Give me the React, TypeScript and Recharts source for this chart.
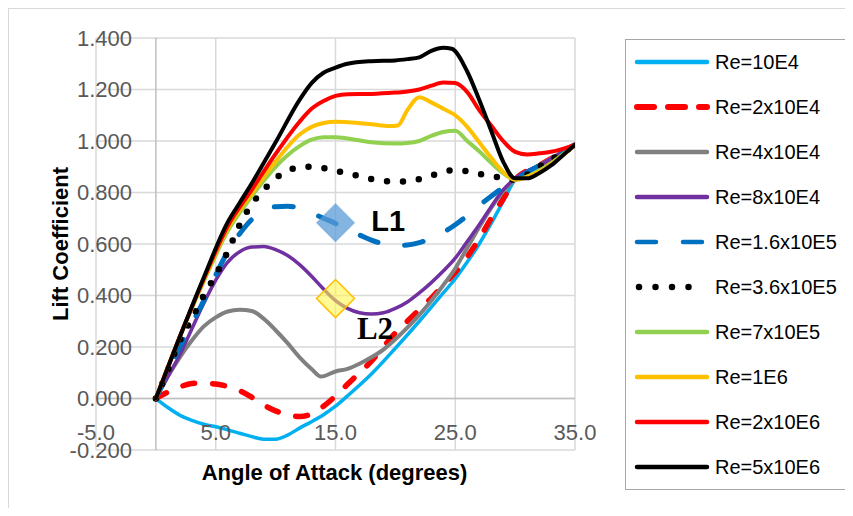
import React from 'react';
import {
  LineChart,
  Line,
  XAxis,
  YAxis,
  CartesianGrid,
  ReferenceDot,
  Label,
} from 'recharts';

type Pt = [number, number];

// Lift coefficient vs angle of attack, one array per Reynolds number
const re10e4: Pt[] = [
  [0, 0], [1, -0.035], [2, -0.065], [3, -0.085], [4, -0.1], [5, -0.11], [6, -0.122],
  [7, -0.135], [8, -0.148], [9, -0.158], [10, -0.158], [11, -0.142], [12, -0.115],
  [13, -0.09], [14, -0.063], [15, -0.03], [16, 0.01], [18, 0.095], [20, 0.195],
  [22, 0.3], [24, 0.41], [25, 0.465], [26, 0.53], [27, 0.6], [28, 0.68], [29, 0.765],
  [30, 0.85], [32, 0.905], [35, 0.985],
];

const re2x10e4: Pt[] = [
  [0, 0], [1, 0.025], [2, 0.045], [3, 0.058], [4, 0.06], [5, 0.056], [6, 0.047],
  [7, 0.03], [8, 0.005], [9, -0.025], [10, -0.048], [11, -0.063], [12, -0.07],
  [13, -0.06], [14, -0.03], [15, 0.01], [16, 0.055], [17, 0.1], [18, 0.145], [19, 0.2],
  [20, 0.255], [21, 0.3], [22, 0.345], [23, 0.39], [24, 0.44], [25, 0.49], [26, 0.55],
  [27, 0.62], [28, 0.7], [29, 0.775], [30, 0.85], [32, 0.905], [35, 0.985],
];

const re4x10e4: Pt[] = [
  [0, 0], [1, 0.085], [2, 0.16], [3, 0.225], [4, 0.28], [5, 0.315], [6, 0.338],
  [7, 0.345], [8, 0.34], [9, 0.31], [10, 0.265], [11, 0.215], [12, 0.16], [13, 0.115],
  [13.8, 0.085], [15, 0.105], [16, 0.115], [17, 0.135], [18, 0.16], [19, 0.19],
  [20, 0.23], [21, 0.275], [22, 0.325], [23, 0.38], [24, 0.44], [25, 0.505], [26, 0.585],
  [27, 0.665], [28, 0.74], [29, 0.805], [30, 0.85], [32, 0.905], [35, 0.985],
];

const re8x10e4: Pt[] = [
  [0, 0], [1, 0.085], [2, 0.17], [3, 0.27], [4, 0.37], [5, 0.46], [6, 0.53], [7, 0.57],
  [8, 0.588], [9, 0.59], [10, 0.578], [11, 0.555], [12, 0.52], [13, 0.475], [14, 0.425],
  [15, 0.38], [16, 0.35], [17, 0.333], [18, 0.328], [19, 0.333], [20, 0.35], [21, 0.375],
  [22, 0.41], [23, 0.45], [24, 0.495], [25, 0.545], [26, 0.61], [27, 0.675], [28, 0.745],
  [29, 0.81], [30, 0.855], [32, 0.905], [35, 0.985],
];

const re16x10e4: Pt[] = [
  [0, 0], [1, 0.1], [2, 0.2], [3, 0.29], [4, 0.38], [5, 0.48], [6, 0.57], [7, 0.64],
  [8, 0.695], [9, 0.73], [10, 0.745], [11, 0.747], [12, 0.738], [13, 0.72], [14, 0.7],
  [15, 0.68], [16, 0.655], [17, 0.635], [18, 0.615], [19, 0.6], [20, 0.594], [21, 0.596],
  [22, 0.605], [23, 0.623], [24, 0.645], [25, 0.675], [26, 0.71], [27, 0.75], [28, 0.785],
  [29, 0.82], [30, 0.85], [32, 0.905], [35, 0.985],
];

const re36x10e4: Pt[] = [
  [0, 0], [1, 0.11], [2, 0.225], [3, 0.31], [4, 0.4], [5, 0.48], [6, 0.57], [7, 0.675],
  [8, 0.755], [9, 0.81], [10, 0.855], [11, 0.885], [12, 0.898], [13, 0.9], [14, 0.895],
  [15, 0.885], [16, 0.874], [17, 0.864], [18, 0.852], [19, 0.845], [20, 0.842],
  [21, 0.843], [22, 0.852], [23, 0.866], [24, 0.88], [25, 0.888], [26, 0.882],
  [27, 0.872], [28, 0.864], [29, 0.857], [30, 0.85], [32, 0.9], [35, 0.985],
];

const re7x10e5: Pt[] = [
  [0, 0], [2, 0.24], [4, 0.455], [6, 0.65], [8, 0.785], [10, 0.9], [12, 0.98],
  [13, 1.005], [14, 1.015], [15, 1.015], [16, 1.01], [18, 0.995], [20, 0.99],
  [21, 0.992], [22, 1.0], [23, 1.02], [24, 1.035], [25, 1.04], [26, 1.0], [27, 0.96],
  [28, 0.915], [29, 0.875], [30, 0.85], [32, 0.885], [35, 0.985],
];

const re1e6: Pt[] = [
  [0, 0], [2, 0.24], [4, 0.46], [6, 0.66], [8, 0.795], [10, 0.92], [12, 1.025],
  [13, 1.055], [14, 1.07], [15, 1.075], [16, 1.073], [18, 1.065], [19.5, 1.058],
  [20.2, 1.06], [21, 1.12], [22, 1.17], [23, 1.15], [24, 1.125], [25, 1.1], [26, 1.055],
  [27, 0.995], [28, 0.935], [29, 0.88], [30, 0.85], [32, 0.88], [35, 0.985],
];

const re2x10e6: Pt[] = [
  [0, 0], [2, 0.24], [4, 0.465], [6, 0.67], [8, 0.81], [10, 0.95], [12, 1.075],
  [13, 1.125], [14, 1.155], [15, 1.175], [16, 1.182], [18, 1.183], [20, 1.188],
  [21, 1.192], [22, 1.2], [23, 1.215], [24, 1.227], [25, 1.225], [26, 1.19], [27, 1.12],
  [28, 1.06], [29, 1.0], [30, 0.958], [31, 0.948], [32, 0.952], [33, 0.958], [35, 0.985],
];

const re5x10e6: Pt[] = [
  [0, 0], [2, 0.24], [4, 0.47], [6, 0.685], [7, 0.76], [8, 0.835], [10, 0.995],
  [12, 1.16], [13, 1.225], [14, 1.265], [15, 1.285], [16, 1.3], [18, 1.31], [20, 1.313],
  [21, 1.318], [22, 1.325], [23, 1.35], [24, 1.362], [24.7, 1.358], [26, 1.27],
  [27, 1.16], [28, 1.04], [29, 0.92], [30, 0.855], [31, 0.855], [32, 0.875],
  [33, 0.905], [34, 0.945], [35, 0.985],
];

const seriesNames = [
  'Re=10E4', 'Re=2x10E4', 'Re=4x10E4', 'Re=8x10E4', 'Re=1.6x10E5',
  'Re=3.6x10E5', 'Re=7x10E5', 'Re=1E6', 'Re=2x10E6', 'Re=5x10E6',
];

const angleTicks = [-5, 5, 15, 25, 35];
const liftTicks = [-0.2, 0, 0.2, 0.4, 0.6, 0.8, 1.0, 1.2, 1.4];

// Marked regions and their tags
const regionMarkers = [
  { name: 'L1', angle: 15, lift: 0.683, tagAngle: 19.4, tagLift: 0.69 },
  { name: 'L2', angle: 15, lift: 0.388, tagAngle: 18.3, tagLift: 0.272 },
];

interface SeriesStyle {
  points: Pt[];
  color: string;
  width: number;
  dash?: string;
  legendDash?: string;
  legendWidth?: number;
}

const styles: SeriesStyle[] = [
  { points: re10e4, color: '#00b0f0', width: 3.5 },
  { points: re2x10e4, color: '#ff0000', width: 5.5, dash: '12 18', legendDash: '17 14', legendWidth: 6 },
  { points: re4x10e4, color: '#808080', width: 4 },
  { points: re8x10e4, color: '#7030a0', width: 3.5 },
  { points: re16x10e4, color: '#0070c0', width: 5, dash: '19 27', legendDash: '19 27' },
  { points: re36x10e4, color: '#000000', width: 6.5, dash: '0 16', legendDash: '0 16.5' },
  { points: re7x10e5, color: '#92d050', width: 4 },
  { points: re1e6, color: '#ffc000', width: 4 },
  { points: re2x10e6, color: '#ff0000', width: 4 },
  { points: re5x10e6, color: '#000000', width: 4 },
];

const series = styles.map((s, i) => ({
  ...s,
  name: seriesNames[i],
  data: s.points.map(([x, y]) => ({ x, y })),
}));

const SANS = '"Liberation Sans", Arial, sans-serif';
const SERIF = '"Liberation Serif", "Times New Roman", serif';

const XTick = (props: any) => {
  const { x, y, payload } = props;
  return (
    <text
      x={x}
      y={y - 18}
      textAnchor="middle"
      dominantBaseline="central"
      fill="#595959"
      fontFamily={SANS}
      fontSize={22}
    >
      {Number(payload.value).toFixed(1)}
    </text>
  );
};

const YTick = (props: any) => {
  const { x, y, payload } = props;
  return (
    <text
      x={x + 36}
      y={y}
      textAnchor="end"
      dominantBaseline="central"
      fill="#595959"
      fontFamily={SANS}
      fontSize={22}
    >
      {Number(payload.value).toFixed(3)}
    </text>
  );
};

const YTitle = (props: any) => {
  const vb = props.viewBox || { x: 0, y: 0, width: 0, height: 0 };
  const cx = vb.x + 51;
  const cy = vb.y + vb.height / 2;
  return (
    <text
      x={cx}
      y={cy}
      transform={`rotate(-90, ${cx}, ${cy})`}
      textAnchor="middle"
      dominantBaseline="central"
      fontFamily={SANS}
      fontWeight="bold"
      fontSize={22}
      fill="#000"
    >
      Lift Coefficient
    </text>
  );
};

const XTitle = (props: any) => {
  const vb = props.viewBox || { x: 0, y: 0, width: 0, height: 0 };
  return (
    <text
      x={vb.x + vb.width / 2 - 1}
      y={vb.y + 22}
      textAnchor="middle"
      dominantBaseline="central"
      fontFamily={SANS}
      fontWeight="bold"
      fontSize={22}
      fill="#000"
    >
      Angle of Attack (degrees)
    </text>
  );
};

const diamond = (fill: string, stroke: string) => (props: any) => {
  const { cx, cy } = props;
  const r = 19;
  return (
    <path
      d={`M${cx},${cy - r} L${cx + r},${cy} L${cx},${cy + r} L${cx - r},${cy} Z`}
      fill={fill}
      stroke={stroke}
      strokeWidth={1.5}
    />
  );
};

const tag = (text: string, family: string, size: number) => (props: any) => {
  const { cx, cy } = props;
  return (
    <text
      x={cx}
      y={cy}
      textAnchor="middle"
      dominantBaseline="central"
      fontFamily={family}
      fontWeight="bold"
      fontSize={size}
      fill="#000"
    >
      {text}
    </text>
  );
};

const markerLooks = [
  { shape: diamond('rgba(91,155,213,0.75)', 'rgba(91,155,213,0.3)'), font: SANS, size: 29 },
  { shape: diamond('rgba(255,245,80,0.6)', '#ffc000'), font: SERIF, size: 31 },
];

const Legend = () => (
  <div
    style={{
      position: 'absolute',
      left: 616,
      top: 30,
      width: 227,
      height: 451,
      border: '1.5px solid #a6a6a6',
      boxSizing: 'border-box',
      background: '#fff',
    }}
  >
    <svg width={224} height={448} style={{ display: 'block' }}>
      {series.map((s, i) => {
        const cy = 22 + 45 * i;
        const dotted = s.legendDash && s.legendDash.startsWith('0 ');
        return (
          <g key={s.name}>
            <line
              x1={dotted ? 13 : 11}
              x2={dotted ? 79 : 81}
              y1={cy}
              y2={cy}
              stroke={s.color}
              strokeWidth={s.legendWidth ?? (dotted ? 6.5 : 4.5)}
              strokeDasharray={s.legendDash}
              strokeLinecap="round"
            />
            <text
              x={89}
              y={cy}
              dominantBaseline="central"
              fontFamily={SANS}
              fontSize={20}
              fill="#000"
            >
              {s.name}
            </text>
          </g>
        );
      })}
    </svg>
  </div>
);

export default function App() {
  return (
    <div
      style={{
        position: 'relative',
        width: 845,
        height: 500,
        borderTop: '1px solid #d9d9d9',
        borderLeft: '1px solid #d9d9d9',
        boxSizing: 'border-box',
        background: '#fff',
      }}
    >
      <LineChart
        width={844}
        height={499}
        margin={{ top: 29, right: 278, bottom: 0, left: 0 }}
      >
        <CartesianGrid stroke="#d9d9d9" strokeWidth={1.5} />
        <CartesianGrid stroke="#bfbfbf" strokeWidth={1.5} horizontal={false} verticalValues={[0]} />
        <CartesianGrid stroke="#bfbfbf" strokeWidth={1.5} vertical={false} horizontalValues={[0]} />
        <XAxis
          dataKey="x"
          type="number"
          domain={[-5, 35]}
          ticks={angleTicks}
          interval={0}
          allowDataOverflow
          axisLine={false}
          tickLine={false}
          tickSize={0}
          tickMargin={0}
          height={58}
          tick={<XTick />}
        >
          <Label content={<XTitle />} />
        </XAxis>
        <YAxis
          type="number"
          domain={[-0.2, 1.4]}
          ticks={liftTicks}
          interval={0}
          allowDataOverflow
          axisLine={false}
          tickLine={false}
          tickSize={0}
          tickMargin={0}
          width={87}
          tick={<YTick />}
        >
          <Label content={<YTitle />} />
        </YAxis>
        {series.map((s) => (
          <Line
            key={s.name}
            name={s.name}
            data={s.data}
            dataKey="y"
            type="monotone"
            stroke={s.color}
            strokeWidth={s.width}
            strokeDasharray={s.dash}
            strokeLinecap="round"
            strokeLinejoin="round"
            dot={false}
            activeDot={false}
            isAnimationActive={false}
          />
        ))}
        {regionMarkers.map((m, i) => (
          <ReferenceDot
            key={m.name + '-mark'}
            x={m.angle}
            y={m.lift}
            shape={markerLooks[i].shape}
          />
        ))}
        {regionMarkers.map((m, i) => (
          <ReferenceDot
            key={m.name + '-tag'}
            x={m.tagAngle}
            y={m.tagLift}
            shape={tag(m.name, markerLooks[i].font, markerLooks[i].size)}
          />
        ))}
      </LineChart>
      <Legend />
    </div>
  );
}
